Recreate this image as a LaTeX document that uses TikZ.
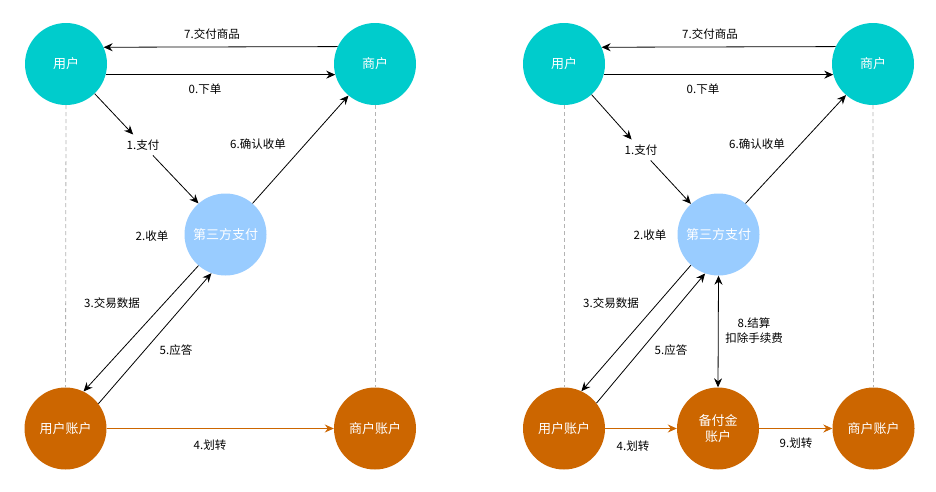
\documentclass[tikz,border=0pt]{standalone}
\usepackage{fontspec}
\setmainfont{Noto Sans CJK SC}
\usetikzlibrary{arrows.meta}
\definecolor{teal1}{HTML}{00CCCC}
\definecolor{blue1}{HTML}{99CCFF}
\definecolor{orange1}{HTML}{CC6600}
\definecolor{dgrey}{HTML}{B3B3B3}
\tikzset{
  circ/.style={circle,minimum size=82pt,inner sep=0pt,text=white,font=\fontsize{13}{16}\selectfont,align=center},
  tealc/.style={circ,fill=teal1},
  bluec/.style={circ,fill=blue1},
  orangec/.style={circ,fill=orange1},
  lbl/.style={font=\fontsize{11.5}{15}\selectfont,text=black,inner sep=1pt,align=center},
  plabel/.style={font=\fontsize{11.5}{15}\selectfont,text=black,inner sep=5pt},
  arr/.style={draw=black,line width=0.8pt,-{Stealth[length=9pt,width=8pt,inset=3pt]}},
  darr/.style={draw=black,line width=0.8pt,{Stealth[length=9pt,width=8pt,inset=3pt]}-{Stealth[length=9pt,width=8pt,inset=3pt]}},
  oarr/.style={draw=orange1,line width=1pt,-{Stealth[length=9pt,width=8pt,inset=3pt]}},
  guide/.style={draw=dgrey,line width=0.8pt,dash pattern=on 4pt off 3pt},
}
\begin{document}
\begin{tikzpicture}[x=1pt,y=-1pt]
\useasboundingbox[fill=white] (0,0) rectangle (936,491);
% ---------- left diagram ----------
\node[tealc] (u) at (66,64) {用户};
\node[tealc] (s) at (375,64) {商户};
\node[bluec] (t) at (225.5,234.5) {第三方支付};
\node[orangec] (ua) at (65.5,428.5) {用户账户};
\node[orangec] (sa) at (375,428.5) {商户账户};
\draw[guide] (u.south) -- (ua.north);
\draw[guide] (s.south) -- (sa.north);
\draw[arr] (s.155.5) -- (u.24.5);
\draw[arr] (u.-15.6) -- (s.195.6);
\node[plabel] (l1) at (143,145) {1.支付};
\draw[arr] (u.-46) -- (l1);
\draw[arr] (l1) -- (t.131);
\draw[arr] (t.49) -- (s.230.5);
\draw[arr] (t.229) -- (ua.64);
\draw[arr] (ua.37.5) -- (t.250);
\draw[oarr] (ua.east) -- (sa.west);
\node[lbl] (l7) at (212,34) {7.交付商品};
\node[lbl] (l0) at (205,89) {0.下单};
\node[lbl] (l6) at (258,144) {6.确认收单};
\node[lbl] (l2) at (152,236) {2.收单};
\node[lbl] (l3) at (112,303) {3.交易数据};
\node[lbl] (l5) at (176,350) {5.应答};
\node[lbl] (l4) at (210,445) {4.划转};
% ---------- right diagram ----------
\node[tealc] (ru) at (564,64) {用户};
\node[tealc] (rs) at (873,64) {商户};
\node[bluec] (rt) at (718.5,234.5) {第三方支付};
\node[orangec] (rua) at (564,428.5) {用户账户};
\node[orangec] (rb) at (718,428.5) {备付金\\账户};
\node[orangec] (rsa) at (873.5,428.5) {商户账户};
\draw[guide] (ru.south) -- (rua.north);
\draw[guide] (rs.south) -- (rsa.north);
\draw[arr] (rs.155.5) -- (ru.24.5);
\draw[arr] (ru.-15.6) -- (rs.195.6);
\node[plabel] (rl1) at (641,150) {1.支付};
\draw[arr] (ru.-48) -- (rl1);
\draw[arr] (rl1) -- (rt.132);
\draw[arr] (rt.49) -- (rs.229);
\draw[arr] (rt.228) -- (rua.65);
\draw[arr] (rua.38) -- (rt.251);
\draw[darr] (rt.south) -- (rb.north);
\draw[oarr] (rua.east) -- (rb.west);
\draw[oarr] (rb.east) -- (rsa.west);
\node[lbl] (rl7) at (710,34) {7.交付商品};
\node[lbl] (rl0) at (703,89) {0.下单};
\node[lbl] (rl6) at (757,144) {6.确认收单};
\node[lbl] (rl2) at (650,235) {2.收单};
\node[lbl] (rl3) at (611,303) {3.交易数据};
\node[lbl] (rl5) at (671,350) {5.应答};
\node[lbl] (rl8) at (754,331) {8.结算\\扣除手续费};
\node[lbl] (rl4) at (633,446) {4.划转};
\node[lbl] (rl9) at (796,443) {9.划转};
\end{tikzpicture}
\end{document}
